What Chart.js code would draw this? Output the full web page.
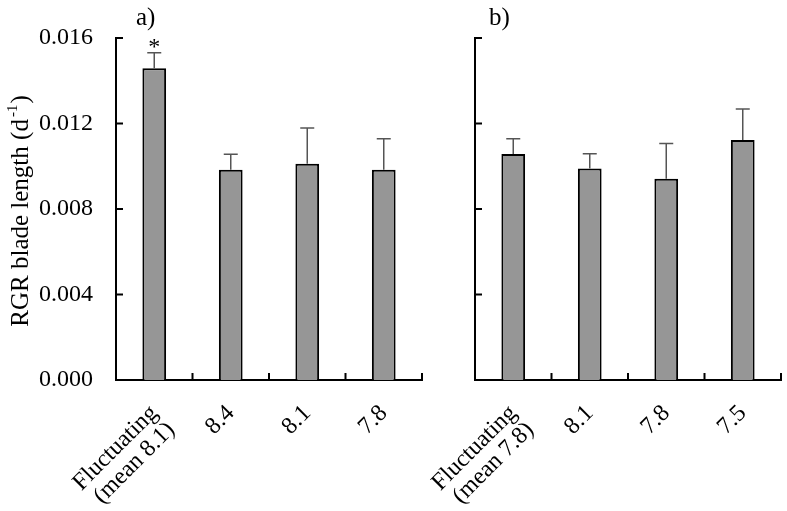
<!DOCTYPE html>
<html>
<head>
<meta charset="utf-8">
<script src="https://cdn.jsdelivr.net/npm/chart.js@4"></script>
<style>
  html, body { margin: 0; padding: 0; background: #fff; }
  #wrap { position: relative; width: 787px; height: 511px; overflow: hidden; }
  canvas { position: absolute; top: 0; }
</style>
</head>
<body>
<div id="wrap">
  <canvas id="cA" width="440" height="511" style="left:0;width:440px;height:511px"></canvas>
  <canvas id="cB" width="407" height="511" style="left:380px;width:407px;height:511px"></canvas>
</div>
<script>
// ---- data ----
const categoriesA = [["Fluctuating", "(mean 8.1)"], "8.4", "8.1", "7.8"];
const valuesA = [0.01458, 0.00984, 0.01012, 0.00984];
const errorsA = [0.00073, 0.00072, 0.00167, 0.00145];
const markersA = ["*", "", "", ""];

const categoriesB = [["Fluctuating", "(mean 7.8)"], "8.1", "7.8", "7.5"];
const valuesB = [0.01057, 0.00989, 0.00942, 0.01123];
const errorsB = [0.00072, 0.00070, 0.00165, 0.00145];
const markersB = ["", "", "", ""];

const yTickValues = [0, 0.004, 0.008, 0.012, 0.016];
const panelLabels = ["a)", "b)"];
const yTitle = "RGR blade length (d";
const yTitleSup = "-1";
const yTitleEnd = ")";

const FONT = "'Liberation Serif', 'Times New Roman', serif";

const decoPlugin = {
  id: 'deco',
  afterDatasetsDraw(chart, args, opts) {
    const ctx = chart.ctx;
    const ys = chart.scales.y, xs = chart.scales.x;
    const area = chart.chartArea;
    const meta = chart.getDatasetMeta(0);
    const vals = chart.data.datasets[0].data;
    ctx.save();
    // error bars (upper only)
    ctx.strokeStyle = '#555';
    ctx.lineWidth = 1.5;
    meta.data.forEach((bar, i) => {
      const top = ys.getPixelForValue(vals[i] + opts.errors[i]);
      const base = ys.getPixelForValue(vals[i]);
      ctx.beginPath();
      ctx.moveTo(bar.x, base);
      ctx.lineTo(bar.x, top);
      ctx.moveTo(bar.x - 7, top);
      ctx.lineTo(bar.x + 7, top);
      ctx.stroke();
      if (opts.markers[i]) {
        ctx.fillStyle = '#000';
        ctx.font = '24px ' + FONT;
        ctx.textAlign = 'center';
        ctx.textBaseline = 'middle';
        ctx.fillText(opts.markers[i], bar.x, top - 5);
      }
    });
    // inward tick marks
    ctx.strokeStyle = '#000';
    ctx.lineWidth = 2;
    ctx.beginPath();
    yTickValues.forEach(v => {
      const y = ys.getPixelForValue(v);
      if (v === 0) return;
      ctx.moveTo(area.left, y);
      ctx.lineTo(area.left + 7, y);
    });
    const n = chart.data.labels.length;
    for (let i = 1; i <= n; i++) {
      const x = xs.getPixelForValue(i - 0.5);
      ctx.moveTo(x, area.bottom);
      ctx.lineTo(x, area.bottom - 7);
    }
    ctx.stroke();
    // panel label
    ctx.fillStyle = '#000';
    ctx.font = '25px ' + FONT;
    ctx.textAlign = 'left';
    ctx.textBaseline = 'middle';
    ctx.fillText(opts.panel, area.left + opts.panelDX, 18);
    // y title
    if (opts.yTitle) {
      ctx.translate(21, 211);
      ctx.rotate(-Math.PI / 2);
      ctx.font = '25px ' + FONT;
      const w1 = ctx.measureText(yTitle).width;
      const w3 = ctx.measureText(yTitleEnd).width;
      ctx.font = '15px ' + FONT;
      const w2 = ctx.measureText(yTitleSup).width;
      const total = w1 + w2 + w3 + 3;
      let x = -total / 2;
      ctx.textAlign = 'left';
      ctx.textBaseline = 'middle';
      ctx.font = '25px ' + FONT;
      ctx.fillText(yTitle, x, 0);
      x += w1 + 2;
      ctx.font = '15px ' + FONT;
      ctx.fillText(yTitleSup, x, -8);
      x += w2 + 1;
      ctx.font = '25px ' + FONT;
      ctx.fillText(yTitleEnd, x, 0);
    }
    ctx.restore();
  }
};

function makeChart(id, labels, values, errors, markers, panel, panelDX, showY, yWidth, padRight) {
  return new Chart(document.getElementById(id), {
    type: 'bar',
    data: {
      labels: labels,
      datasets: [{
        data: values,
        backgroundColor: '#969696',
        borderColor: '#000',
        borderWidth: 2,
        categoryPercentage: 1,
        barPercentage: 0.31
      }]
    },
    options: {
      responsive: false,
      animation: false,
      events: [],
      layout: { padding: { top: 38, right: padRight, left: 0, bottom: 0 } },
      plugins: {
        legend: { display: false },
        tooltip: { enabled: false },
        deco: { errors, markers, panel, panelDX, yTitle: showY }
      },
      scales: {
        x: {
          grid: { display: false, drawTicks: false },
          border: { display: true, color: '#000', width: 2 },
          ticks: {
            color: '#000',
            font: { family: FONT, size: 24, lineHeight: 1.0 },
            maxRotation: 45, minRotation: 45,
            padding: 21,
            autoSkip: false
          },
          afterFit(s) { s.height = 131; s.paddingLeft = 0; s.paddingRight = 0; }
        },
        y: {
          min: 0, max: 0.016,
          grid: { display: false, drawTicks: false },
          border: { display: true, color: '#000', width: 2 },
          afterBuildTicks(s) { s.ticks = yTickValues.map(v => ({ value: v })); },
          ticks: {
            display: showY,
            color: '#000',
            font: { family: FONT, size: 24 },
            padding: 23,
            callback: v => Number(v).toFixed(3)
          },
          afterFit(s) { s.width = yWidth; s.paddingTop = 0; s.paddingBottom = 0; }
        }
      }
    },
    plugins: [decoPlugin]
  });
}

makeChart('cA', categoriesA, valuesA, errorsA, markersA, panelLabels[0], 20, true, 116, 18);
makeChart('cB', categoriesB, valuesB, errorsB, markersB, panelLabels[1], 14, false, 95, 6);
</script>
</body>
</html>
